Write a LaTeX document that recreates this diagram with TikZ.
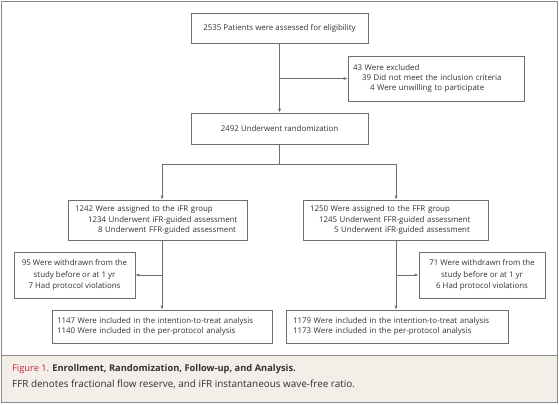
\documentclass[tikz,border=0pt]{standalone}
\usepackage{fontspec}
\setmainfont{Open Sans}
\usetikzlibrary{arrows.meta}
\definecolor{linegray}{HTML}{6E6E6E}
\definecolor{txtgray}{HTML}{333333}
\definecolor{nejmred}{HTML}{C4253B}
\definecolor{capbg}{HTML}{F3EEE8}
\definecolor{framegray}{HTML}{8A8A8A}
\tikzset{
  box/.style={draw=linegray, line width=0.6pt, rectangle, inner sep=0pt, text=txtgray,
    font=\fontsize{7.9}{10.2}\selectfont},
  conn/.style={draw=linegray, line width=0.6pt},
  arr/.style={conn, -{Latex[length=4pt,width=3pt]}},
}
\begin{document}
\begin{tikzpicture}[x=1pt,y=-1pt]
\useasboundingbox (0,0) rectangle (559,404);
\fill[white] (0,0) rectangle (559,404);
% caption band
\fill[capbg] (1.5,355) rectangle (557.5,402.5);
\draw[framegray, line width=1.2pt] (1.5,1.5) rectangle (557.5,402.5);
\draw[framegray, line width=1pt] (1.5,355) -- (557.5,355);

% boxes
\node[box, minimum width=177pt, minimum height=30pt] (b1) at (279.5,28)
  {2535 Patients were assessed for eligibility};
\node[box, minimum width=176pt, minimum height=45pt, text width=166pt, align=left] (ex) at (436,78.5)
  {43 Were excluded\\\hspace*{9pt}39 Did not meet the inclusion criteria\\\hspace*{17pt}4 Were unwilling to participate};
\node[box, minimum width=177pt, minimum height=31pt] (b2) at (279.5,128.5)
  {2492 Underwent randomization};
\node[box, minimum width=179pt, minimum height=40pt, text width=165pt, align=left] (L) at (157.5,220)
  {1242 Were assigned to the iFR group\\\hspace*{13pt}1234 Underwent iFR-guided assessment\\\hspace*{23pt}8 Underwent FFR-guided assessment};
\node[box, minimum width=185pt, minimum height=40pt, text width=171pt, align=left] (R) at (395.5,220)
  {1250 Were assigned to the FFR group\\\hspace*{9pt}1245 Underwent FFR-guided assessment\\\hspace*{24pt}5 Underwent iFR-guided assessment};
\node[box, minimum width=121pt, minimum height=46pt, align=center, font=\fontsize{7.9}{11.4}\selectfont] (WL) at (74.5,275)
  {95 Were withdrawn from the\\study before or at 1 yr\\7 Had protocol violations};
\node[box, minimum width=126pt, minimum height=46pt, align=center, font=\fontsize{7.9}{11.4}\selectfont] (WR) at (482,275)
  {71 Were withdrawn from the\\study before or at 1 yr\\6 Had protocol violations};
\node[box, minimum width=220pt, minimum height=33pt, text width=210pt, align=left] (IL) at (162,326.5)
  {1147 Were included in the intention-to-treat analysis\\1140 Were included in the per-protocol analysis};
\node[box, minimum width=222pt, minimum height=33pt, text width=208pt, align=left] (IR) at (397,326.5)
  {1179 Were included in the intention-to-treat analysis\\1173 Were included in the per-protocol analysis};

% junction coordinates
\coordinate (j1) at (279.5,78.5);
\coordinate (sp) at (279.5,164);
\coordinate (tL) at (162,164);
\coordinate (tR) at (396,164);
\coordinate (wl) at (162,275);
\coordinate (wr) at (396,275);

% connectors
\draw[arr] (b1.south) -- (b2.north);
\draw[arr] (j1) -- (ex.west |- j1);
\draw[conn] (b2.south) -- (sp);
\draw[conn] (tL) -- (tR);
\draw[arr] (tL) -- (tL |- L.north);
\draw[arr] (tR) -- (tR |- R.north);
\draw[arr] (tL |- L.south) -- (tL |- IL.north);
\draw[arr] (tR |- R.south) -- (tR |- IR.north);
\draw[arr] (wl) -- (WL.east |- wl);
\draw[arr] (wr) -- (WR.west |- wr);

% caption
\node[anchor=base west, inner sep=0pt, font=\fontsize{9.3}{11}\selectfont] (cap1) at (12,371)
  {\textcolor{nejmred}{Figure 1.} \textcolor{txtgray}{\textbf{Enrollment, Randomization, Follow-up, and Analysis.}}};
\node[anchor=base west, inner sep=0pt, font=\fontsize{9.9}{11}\selectfont, text=txtgray] (cap2) at (12,387)
  {FFR denotes fractional flow reserve, and iFR instantaneous wave-free ratio.};
\end{tikzpicture}
\end{document}
